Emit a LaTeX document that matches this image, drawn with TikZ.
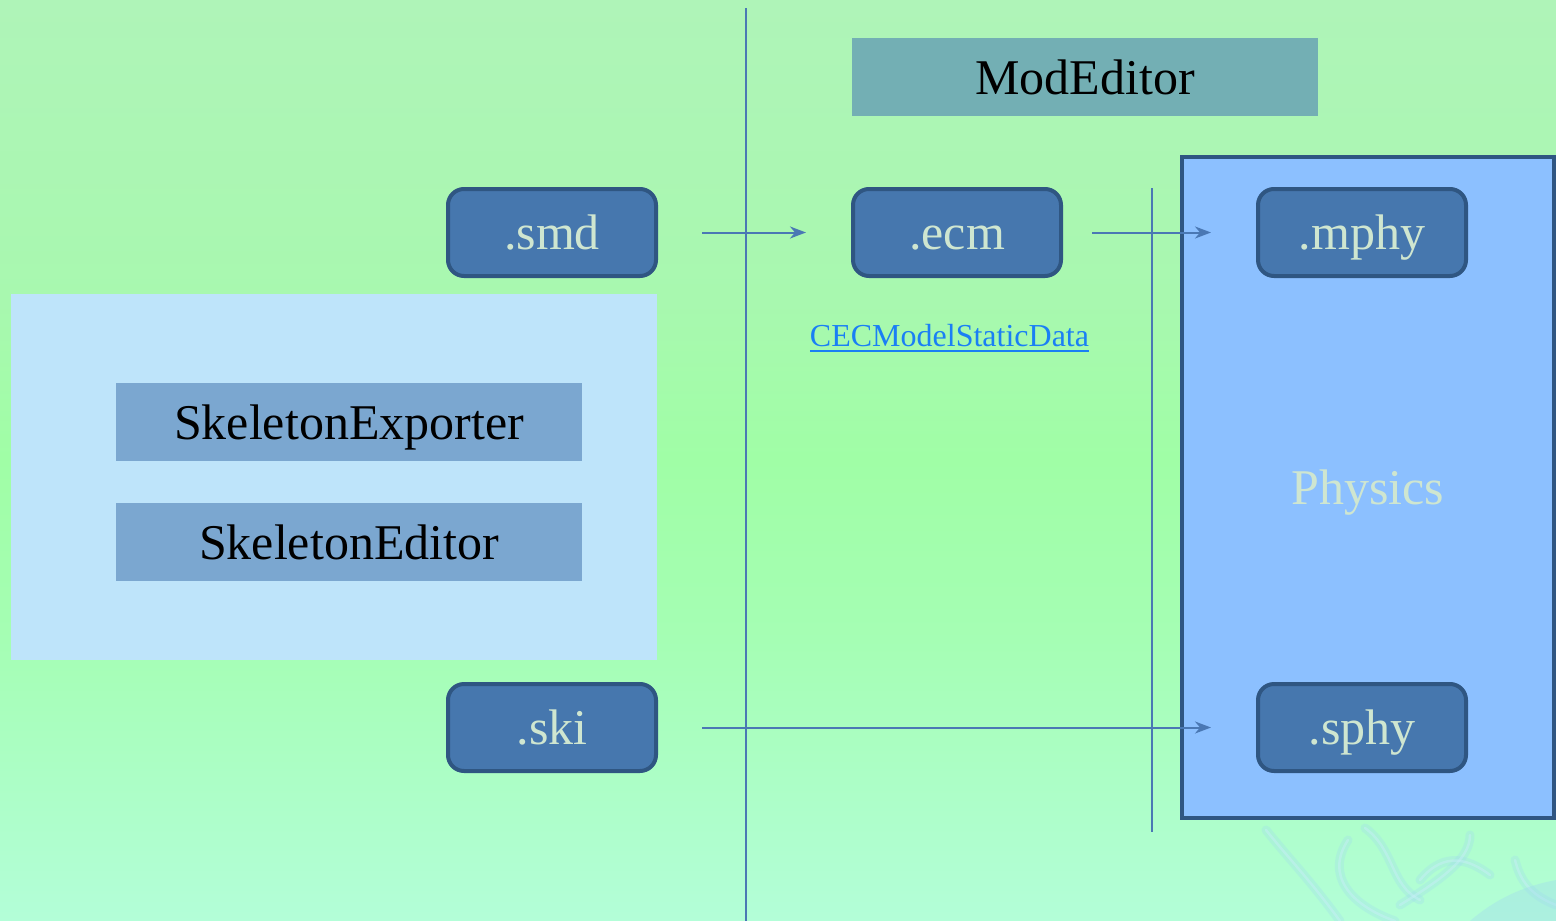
\documentclass[tikz,border=0pt]{standalone}
\usepackage{fontspec}
\setmainfont{Liberation Serif}
\usetikzlibrary{arrows.meta}

\definecolor{bgtop}{HTML}{AFF4B8}
\definecolor{bgupper}{HTML}{A8F8AF}
\definecolor{bgmid}{HTML}{A0FEA6}
\definecolor{bglower}{HTML}{A5FEB4}
\definecolor{bgbot}{HTML}{B3FED8}
\definecolor{filebox}{HTML}{4677AE}
\definecolor{fileedge}{HTML}{2F5682}
\definecolor{filetext}{HTML}{CFE6D0}
\definecolor{toolteal}{HTML}{73AFB4}
\definecolor{panelblue}{HTML}{BEE4FA}
\definecolor{toolblue}{HTML}{7BA7D0}
\definecolor{physfill}{HTML}{8CC0FF}
\definecolor{flowline}{HTML}{4A78B4}
\definecolor{linkblue}{HTML}{1A7FF5}
\definecolor{wisp}{HTML}{9FD8F0}
\definecolor{wisplight}{HTML}{C8F0F8}

\tikzset{
  bigtext/.style={font=\fontsize{50}{60}\selectfont, text height=34pt, text depth=0pt, inner sep=0pt},
  filenode/.style={bigtext, draw=fileedge, line width=4pt, fill=filebox, text=filetext,
    rounded corners=16pt, minimum width=208pt, minimum height=87pt},
  toolnode/.style={bigtext, fill=toolblue, text=black, minimum width=466pt, minimum height=78pt},
  flow/.style={draw=flowline, line width=2pt, -{Stealth[length=16pt,width=12pt,inset=5pt]}},
  divider/.style={draw=flowline, line width=2.2pt},
  swirl/.style={draw=wisp, line cap=round, line width=9pt, opacity=0.28},
  swirlcore/.style={draw=wisplight, line cap=round, line width=2.5pt, opacity=0.45},
}

\begin{document}
\begin{tikzpicture}[x=1pt,y=-1pt]
  \useasboundingbox (0,0) rectangle (1556,921);
  % backdrop, banded vertical gradient
  \shade[top color=bgtop, bottom color=bgupper] (0,0) rectangle (1556,300.5);
  \shade[top color=bgupper, bottom color=bgmid] (0,300) rectangle (1556,460.5);
  \shade[top color=bgmid, bottom color=bglower] (0,460) rectangle (1556,640.5);
  \shade[top color=bglower, bottom color=bgbot] (0,640) rectangle (1556,921);

  % soft swirls in the lower right corner
  \foreach \s in {swirl, swirlcore} {
    \draw[\s] (1266,830) .. controls (1290,860) and (1310,880) .. (1340,921);
    \draw[\s] (1348,840) .. controls (1325,875) and (1350,905) .. (1395,921);
    \draw[\s] (1365,828) .. controls (1395,850) and (1390,885) .. (1420,900);
    \draw[\s] (1400,905) .. controls (1440,880) and (1470,860) .. (1470,835);
    \draw[\s] (1420,880) .. controls (1445,850) and (1470,860) .. (1490,875);
    \draw[\s] (1515,860) .. controls (1520,880) and (1530,895) .. (1556,905);
  }
  \fill[wisp, opacity=0.35] (1470,921) .. controls (1500,895) and (1530,885) .. (1556,880) -- (1556,921) -- cycle;

  % left panel with the skeleton tools
  \node[fill=panelblue, minimum width=646pt, minimum height=366pt, inner sep=0pt] (skelpanel) at (334,477) {};
  \node[toolnode] (exporter) at (349,422) {SkeletonExporter};
  \node[toolnode] (skeditor) at (349,542) {SkeletonEditor};

  % physics container
  \node[bigtext, draw=fileedge, line width=4pt, fill=physfill, text=filetext,
        minimum width=372pt, minimum height=661pt] (physics) at (1368,487.5) {Physics};

  % dividers
  \coordinate (d1top) at (746,8);
  \coordinate (d1bot) at (746,921);
  \coordinate (d2top) at (1152,188);
  \coordinate (d2bot) at (1152,832);
  \draw[divider] (d1top) -- (d1bot);
  \draw[divider, line width=2pt] (d2top) -- (d2bot);

  % model editor
  \node[bigtext, fill=toolteal, text=black, minimum width=466pt, minimum height=78pt] (modeditor) at (1085,77) {ModEditor};

  % file formats
  \node[filenode] (smd) at (552,232.5) {.smd};
  \node[filenode] (ecm) at (957,232.5) {.ecm};
  \node[filenode] (mphy) at (1362,232.5) {.mphy};
  \node[filenode] (ski) at (552,727.5) {.ski};
  \node[filenode] (sphy) at (1362,727.5) {.sphy};

  % linked class name under .ecm
  \node[font=\fontsize{32}{38}\selectfont, text=linkblue, inner sep=0pt, anchor=base] (cecdata) at (949.5,346) {CECModelStaticData};
  \draw[linkblue, line width=2pt] ([yshift=-4.5pt]cecdata.base west) -- ([yshift=-4.5pt]cecdata.base east);

  % conversions
  \draw[flow] ([xshift=44pt]smd.east) -- ([xshift=-45pt]ecm.west);
  \draw[flow] ([xshift=29pt]ecm.east) -- ([xshift=-45pt]mphy.west);
  \draw[flow] ([xshift=44pt]ski.east) -- ([xshift=-45pt]sphy.west);
\end{tikzpicture}
\end{document}
